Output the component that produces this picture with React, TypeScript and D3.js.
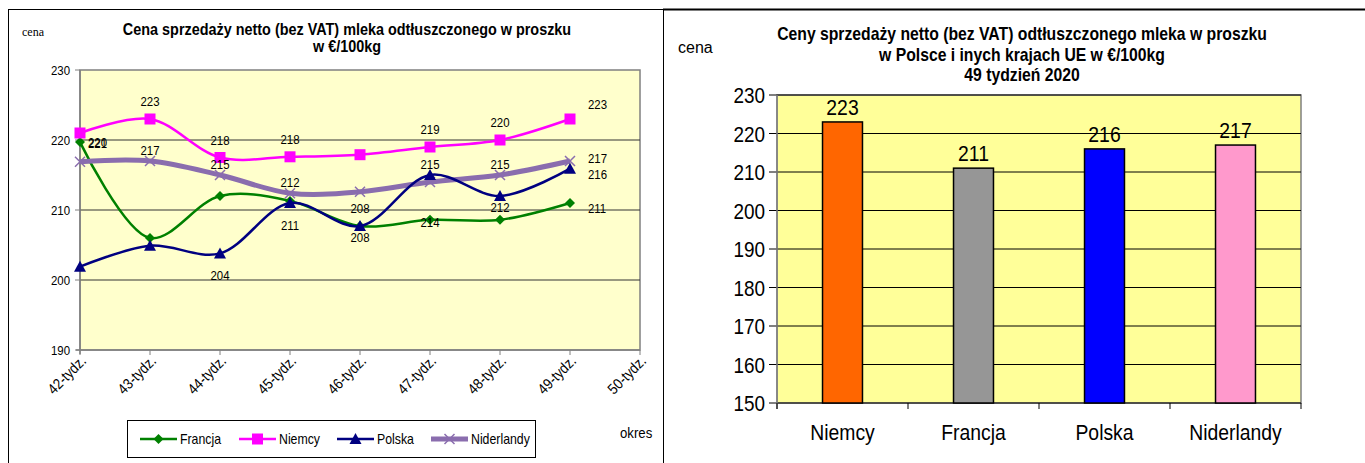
import React from "react";
import * as d3 from "d3";

// left chart: weekly prices in EUR/100kg
const weeks = ["42-tydz.", "43-tydz.", "44-tydz.", "45-tydz.", "46-tydz.", "47-tydz.", "48-tydz.", "49-tydz.", "50-tydz."];
const francja = [219.7, 206, 212, 211.3, 207.7, 208.6, 208.6, 211];
const niemcy = [221, 223, 217.5, 217.6, 217.9, 219, 220, 223];
const polska = [201.9, 204.9, 203.8, 211, 207.7, 215, 212, 215.9];
const niderlandy = [216.9, 217, 215, 212.4, 212.6, 214, 215, 217];
const yTicksLeft = [190, 200, 210, 220, 230];

// label placement codes per point ("" = no label shown)
const francjaLabels = ["l", "", "", "", "a", "", "", "rd"];
const niemcyLabels = ["ld", "a", "a", "a", "", "a", "a", "ru"];
const polskaLabels = ["", "", "bb", "bb", "b", "s", "b", "rd"];
const niderlandyLabels = ["", "s", "s", "s", "", "b2", "s", "r"];

// right chart: week 49 2020
const countries = ["Niemcy", "Francja", "Polska", "Niderlandy"];
const prices49 = [223, 211, 216, 217];
const barColors = ["#FF6600", "#969696", "#0000FF", "#FF99CC"];
const yTicksRight = [150, 160, 170, 180, 190, 200, 210, 220, 230];

const sans = "'Liberation Sans', Arial, sans-serif";

// offsets of a label centre from its point
const placements: Record<string, { dx: number; dy: number; anchor: string }> = {
  a: { dx: 0, dy: -18, anchor: "middle" },
  s: { dx: 0, dy: -11, anchor: "middle" },
  b: { dx: 0, dy: 11, anchor: "middle" },
  bb: { dx: 0, dy: 22, anchor: "middle" },
  b2: { dx: 0, dy: 40, anchor: "middle" },
  l: { dx: 8, dy: 0, anchor: "start" },
  ld: { dx: 8, dy: 10, anchor: "start" },
  r: { dx: 18, dy: -3, anchor: "start" },
  ru: { dx: 18, dy: -15, anchor: "start" },
  rd: { dx: 18, dy: 5, anchor: "start" },
};

type Series = {
  name: string;
  values: number[];
  labels: string[];
  color: string;
  width: number;
  marker: "diamond" | "square" | "triangle" | "x";
};

const series: Series[] = [
  { name: "Francja", values: francja, labels: francjaLabels, color: "#008000", width: 2.5, marker: "diamond" },
  { name: "Niemcy", values: niemcy, labels: niemcyLabels, color: "#FF00FF", width: 2.5, marker: "square" },
  { name: "Niderlandy", values: niderlandy, labels: niderlandyLabels, color: "#8A6DAE", width: 5, marker: "x" },
  { name: "Polska", values: polska, labels: polskaLabels, color: "#000080", width: 2.5, marker: "triangle" },
];
const legendOrder = ["Francja", "Niemcy", "Polska", "Niderlandy"];

// condensed text: no narrow font installed, so squeeze horizontally
function NText({ x, y, sx = 0.9, size, anchor = "start", bold = false, children }: any) {
  return (
    <text
      transform={`translate(${x},${y}) scale(${sx},1)`}
      textAnchor={anchor}
      fontFamily={sans}
      fontSize={size}
      fontWeight={bold ? "bold" : "normal"}
    >
      {children}
    </text>
  );
}

function Marker({ kind, x, y, color }: { kind: string; x: number; y: number; color: string }) {
  if (kind === "diamond") {
    return <path d={`M${x},${y - 5}L${x + 5},${y}L${x},${y + 5}L${x - 5},${y}Z`} fill={color} />;
  }
  if (kind === "square") {
    return <rect x={x - 5.5} y={y - 5.5} width={11} height={11} fill={color} />;
  }
  if (kind === "triangle") {
    return <path d={`M${x},${y - 6}L${x + 6},${y + 5}L${x - 6},${y + 5}Z`} fill={color} />;
  }
  return (
    <path d={`M${x - 5},${y - 5}L${x + 5},${y + 5}M${x - 5},${y + 5}L${x + 5},${y - 5}`} stroke={color} strokeWidth={1.5} fill="none" />
  );
}

function LeftChart() {
  const x = d3.scalePoint<string>().domain(weeks).range([80, 640]);
  const y = d3.scaleLinear().domain([190, 230]).range([350, 70]);
  const line = d3
    .line<number>()
    .x((_, i) => x(weeks[i]) as number)
    .y((d) => y(d))
    .curve(d3.curveCatmullRom.alpha(0.5));

  return (
    <g>
      <rect x={8.5} y={9.5} width={655} height={460} fill="white" stroke="black" />
      <text x={22} y={36} fontFamily="'Liberation Serif', 'Times New Roman', serif" fontSize={12}>cena</text>
      <NText x={347} y={35} size={16} sx={0.9} anchor="middle" bold>
        Cena sprzedaży netto (bez VAT) mleka odtłuszczonego w proszku
      </NText>
      <NText x={347} y={52} size={16} sx={0.9} anchor="middle" bold>
        w €/100kg
      </NText>

      <rect x={80} y={70} width={560} height={280} fill="#FFFFCC" stroke="#808080" strokeWidth={1.5} />
      {yTicksLeft.slice(1, -1).map((t) => (
        <line key={t} x1={80} x2={640} y1={y(t)} y2={y(t)} stroke="#333" strokeWidth={1} />
      ))}
      <line x1={80} x2={80} y1={70} y2={354} stroke="#808080" strokeWidth={1.5} />
      <line x1={76} x2={640} y1={350} y2={350} stroke="#808080" strokeWidth={1.5} />
      {yTicksLeft.map((t) => (
        <g key={t}>
          <line x1={75} x2={80} y1={y(t)} y2={y(t)} stroke="#808080" />
          <NText x={70} y={y(t) + 5} size={13} sx={0.88} anchor="end">{t}</NText>
        </g>
      ))}
      {weeks.map((w) => (
        <g key={w}>
          <line x1={x(w)} x2={x(w)} y1={350} y2={355} stroke="#808080" />
          <text
            transform={`translate(${(x(w) as number) + 7},${362}) rotate(-45) scale(0.88,1)`}
            textAnchor="end"
            fontFamily={sans}
            fontSize={15}
          >
            {w}
          </text>
        </g>
      ))}

      {series.map((s) => (
        <g key={s.name}>
          <path d={line(s.values) as string} fill="none" stroke={s.color} strokeWidth={s.width} strokeLinejoin="round" />
          {s.values.map((v, i) => (
            <Marker key={i} kind={s.marker} x={x(weeks[i]) as number} y={y(v)} color={s.color} />
          ))}
        </g>
      ))}
      {series.map((s) =>
        s.values.map((v, i) => {
          const p = placements[s.labels[i]];
          if (!p) return null;
          return (
            <NText
              key={s.name + i}
              x={(x(weeks[i]) as number) + p.dx}
              y={y(v) + p.dy + 5}
              size={13}
              sx={0.88}
              anchor={p.anchor}
            >
              {Math.round(v)}
            </NText>
          );
        })
      )}

      <rect x={127.5} y={420.5} width={408} height={37} fill="white" stroke="black" />
      {legendOrder.map((name, i) => {
        const s = series.find((d) => d.name === name) as Series;
        const lx = [140, 239, 337, 431][i];
        return (
          <g key={name}>
            <line x1={lx} x2={lx + 37} y1={439} y2={439} stroke={s.color} strokeWidth={s.width} />
            <Marker kind={s.marker} x={lx + 18.5} y={439} color={s.color} />
            <NText x={lx + 40} y={444} size={14} sx={0.88}>{name}</NText>
          </g>
        );
      })}
      <NText x={620} y={438} size={15} sx={0.88}>okres</NText>
    </g>
  );
}

function RightChart() {
  const x = d3.scaleBand<string>().domain(countries).range([777, 1301]).paddingInner(0.695).paddingOuter(0.3475);
  const y = d3.scaleLinear().domain([150, 230]).range([403, 95]);
  const step = x.step();
  const titleLines = [
    "Ceny sprzedaży netto  (bez VAT) odtłuszczonego mleka w proszku",
    "w Polsce i inych  krajach UE w €/100kg",
    "49 tydzień 2020",
  ];

  return (
    <g>
      <line x1={663} x2={1365} y1={9.5} y2={9.5} stroke="black" strokeWidth={2} />
      <line x1={663.5} x2={663.5} y1={9} y2={463} stroke="black" />
      <text x={678} y={53} fontFamily={sans} fontSize={16}>cena</text>
      {titleLines.map((t, i) => (
        <NText key={i} x={1022} y={40 + i * 20.5} size={17.5} sx={0.9} anchor="middle" bold>
          {t}
        </NText>
      ))}

      <rect x={777} y={95} width={524} height={308} fill="#FFFF99" stroke="#808080" strokeWidth={1.5} />
      {yTicksRight.map((t) => (
        <g key={t}>
          <line x1={769} x2={1301} y1={y(t)} y2={y(t)} stroke="black" strokeWidth={1} />
          <NText x={765} y={y(t) + 8} size={22} sx={0.86} anchor="end">{t}</NText>
        </g>
      ))}
      <line x1={777} x2={777} y1={95} y2={409} stroke="#808080" strokeWidth={1.5} />
      {d3.range(countries.length + 1).map((i) => (
        <line key={i} x1={777 + i * step} x2={777 + i * step} y1={403} y2={409} stroke="black" />
      ))}

      {countries.map((c, i) => (
        <g key={c}>
          <rect
            x={x(c)}
            y={y(prices49[i])}
            width={x.bandwidth()}
            height={y(150) - y(prices49[i])}
            fill={barColors[i]}
            stroke="black"
            strokeWidth={1.5}
          />
          <NText x={(x(c) as number) + x.bandwidth() / 2} y={y(prices49[i]) - 7} size={22} sx={0.88} anchor="middle">
            {prices49[i]}
          </NText>
          <NText x={(x(c) as number) + x.bandwidth() / 2} y={440} size={22} sx={0.88} anchor="middle">
            {c}
          </NText>
        </g>
      ))}
    </g>
  );
}

export default function App() {
  return (
    <svg width={1365} height={463} style={{ position: "absolute", left: 0, top: 0 }}>
      <rect width={1365} height={463} fill="white" />
      <LeftChart />
      <RightChart />
    </svg>
  );
}
